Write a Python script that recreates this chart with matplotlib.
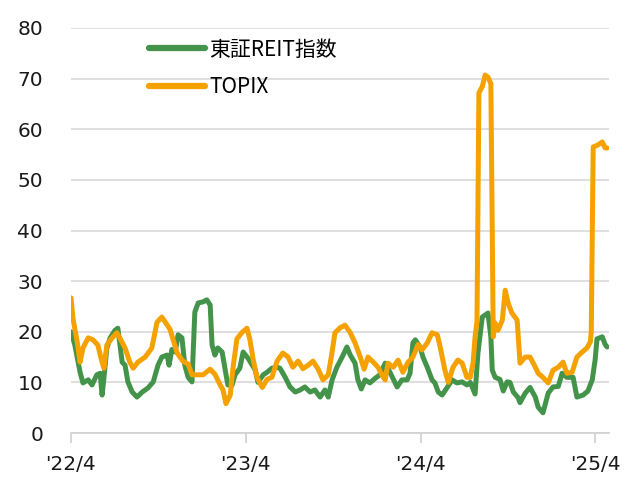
import matplotlib
matplotlib.use('Agg')
import matplotlib.pyplot as plt
import pandas as pd

# days counted from 2022-04-01
reit_days = [0, 8, 19, 25, 36, 44, 54, 61, 65, 69, 75, 82, 92, 98, 107, 113, 119, 128, 138, 149,
             161, 172, 182, 190, 201, 205, 211, 218, 224, 232, 238, 245, 253, 259, 266, 276, 284, 291, 295, 301,
             307, 316, 322, 328, 337, 343, 353, 360, 370, 379, 385, 391, 402, 410, 420, 431, 437, 448, 458, 469,
             479, 489, 500, 510, 521, 531, 538, 546, 556, 567, 577, 584, 594, 600, 607, 615, 625, 636, 646, 657,
             667, 682, 692, 703, 709, 715, 720, 730, 736, 745, 755, 761, 768, 776, 786, 797, 807, 818, 828, 835,
             845, 851, 860, 866, 872, 878, 881, 887, 897, 904, 912, 918, 925, 935, 939, 950, 960, 971, 977, 987,
             998, 1008, 1019, 1027, 1037, 1050, 1058, 1071, 1081, 1090, 1096, 1100, 1111, 1117, 1121]
reit_vals = [20, 17.4, 12, 9.9, 10.5, 9.5, 11.5, 11.8, 7.5, 11, 16.8, 18.8, 20.3, 20.7, 14, 13.4, 10.1, 8.1, 7.1, 8.1,
             8.9, 10.1, 13.4, 15, 15.4, 13.4, 16.5, 16, 19.4, 18.8, 13.4, 11, 10.1, 23.9, 25.7, 25.9, 26.3, 25.3, 17.4, 15.4,
             16.8, 16, 12.8, 9.5, 9.5, 11.5, 12.8, 16, 14.8, 13.4, 12.5, 10, 11.5, 12, 12.8, 13, 12.8, 11, 9.1, 8.1,
             8.5, 9.1, 8.1, 8.5, 7.1, 8.5, 7.1, 10.5, 13, 15, 17, 15.4, 13.8, 10.5, 8.7, 10.5, 9.9, 10.8, 11.5, 13.8,
             12, 9.1, 10.5, 10.5, 11.8, 17.8, 18.4, 17, 15, 13, 10.5, 9.9, 8.1, 7.5, 8.9, 10.5, 9.9, 10.1, 9.5, 10,
             7.7, 15.8, 22.9, 23.3, 23.7, 19, 12.4, 11, 10.6, 8.3, 10.1, 10, 8.1, 7, 6, 7.9, 9, 7.1, 5.1, 4,
             7.9, 9.1, 9.2, 11.8, 11, 11, 7.1, 7.5, 8.3, 10.5, 14.4, 18.6, 19, 17.5, 17]

topix_days = [0, 4, 13, 19, 25, 36, 46, 56, 65, 69, 75, 86, 96, 102, 113, 123, 130, 140, 155, 169,
              180, 190, 197, 207, 215, 222, 234, 245, 253, 264, 276, 291, 301, 312, 318, 324, 333, 339, 347, 358,
              368, 374, 381, 389, 400, 410, 420, 431, 443, 454, 464, 475, 485, 496, 506, 517, 527, 538, 546, 552,
              563, 573, 584, 594, 605, 613, 621, 632, 642, 653, 657, 663, 674, 684, 694, 705, 715, 726, 734, 745,
              755, 766, 772, 782, 789, 799, 809, 818, 828, 835, 841, 845, 849, 853, 860, 866, 872, 878, 883, 887,
              893, 902, 908, 914, 922, 933, 939, 950, 960, 971, 977, 987, 998, 1008, 1019, 1029, 1037, 1048, 1058, 1069,
              1079, 1086, 1088, 1092, 1102, 1111, 1117, 1121]
topix_vals = [26.7, 22.7, 18, 14, 16.8, 18.8, 18.4, 17.4, 14, 12.8, 17.4, 18.8, 19.8, 18.8, 16.8, 14, 12.8, 14, 15, 16.8,
              21.9, 22.9, 21.9, 20.5, 18, 15.8, 14.2, 13.6, 11.5, 11.5, 11.5, 12.6, 11.6, 9.5, 8.5, 5.8, 7.5, 13, 18.6, 19.9,
              20.7, 18.5, 14.5, 11, 9, 10.6, 11, 14.2, 15.8, 15, 13, 14.2, 12.7, 13.4, 14.2, 12.6, 10.5, 11.5, 16, 19.8,
              20.8, 21.3, 19.8, 17.8, 15, 12.6, 15, 14, 13, 11, 10.5, 13.8, 13, 14.4, 12, 14, 15, 17.5, 16.4, 17.8,
              19.8, 19.4, 17, 12.4, 10, 13, 14.4, 13.8, 11, 11, 14, 19, 22, 67.2, 68.4, 70.7, 70.3, 69, 19, 21.7,
              20.3, 22.3, 28.2, 25.7, 23.7, 22.3, 13.8, 15, 15, 13, 11.8, 11, 9.9, 12.4, 13, 14, 11.8, 12, 15, 16,
              16.8, 18, 20, 56.5, 56.9, 57.5, 56.3, 56.3]

tick_dates = ['2022-04-01', '2023-04-01', '2024-04-01', '2025-04-01']
tick_labels = ["'22/4", "'23/4", "'24/4", "'25/4"]

start = pd.Timestamp('2022-04-01')
reit_x = start + pd.to_timedelta(reit_days, unit='D')
topix_x = start + pd.to_timedelta(topix_days, unit='D')

GREEN = '#43944a'
ORANGE = '#f5a100'
jp_font = ['Noto Sans CJK JP', 'DejaVu Sans']

fig = plt.figure(figsize=(6.35, 4.86), dpi=100)
ax = fig.add_axes([0.1118, 0.109, 0.959 - 0.1118, 0.9424 - 0.109])

ax.plot(reit_x, reit_vals, color=GREEN, linewidth=3.6, solid_joinstyle='round',
        solid_capstyle='round', label='東証REIT指数')
ax.plot(topix_x, topix_vals, color=ORANGE, linewidth=3.6, solid_joinstyle='round',
        solid_capstyle='round', label='TOPIX')

ax.set_ylim(0, 80)
ax.set_yticks(range(0, 81, 10))
ax.set_xlim(start, start + pd.Timedelta(days=1125))
ax.set_xticks(pd.to_datetime(tick_dates))
ax.set_xticklabels(tick_labels)

ax.grid(axis='y', color='#d9d9d9', linewidth=1.2)
ax.set_axisbelow(True)
for side in ['top', 'right', 'left']:
    ax.spines[side].set_visible(False)
ax.spines['bottom'].set_color('#d0d0d0')
ax.spines['bottom'].set_linewidth(1.2)

ax.tick_params(axis='y', length=0, pad=20, labelsize=14.5, labelcolor='#1a1a1a')
ax.tick_params(axis='x', length=7, width=1.2, color='#d0d0d0', pad=9,
               labelsize=14.5, labelcolor='#1a1a1a')

leg = ax.legend(loc='upper left', bbox_to_anchor=(0.11, 1.02), frameon=False,
                handlelength=2.7, handletextpad=0.2, labelspacing=0.75,
                prop={'family': jp_font, 'size': 15})
for line in leg.get_lines():
    line.set_linewidth(4.5)

plt.savefig('out.png', dpi=100)
